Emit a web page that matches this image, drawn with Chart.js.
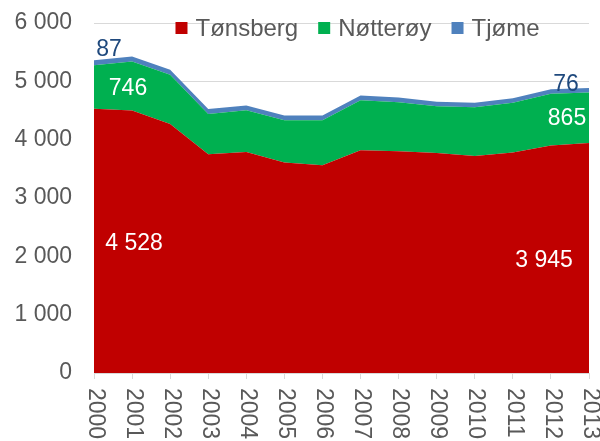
<!DOCTYPE html>
<html>
<head>
<meta charset="utf-8">
<script src="https://cdn.jsdelivr.net/npm/chart.js@4"></script>
<style>
  html, body { margin: 0; padding: 0; background: #ffffff; }
  #wrap { width: 600px; height: 441px; }
</style>
</head>
<body>
<div id="wrap"><canvas id="chart" width="600" height="441"></canvas></div>
<script>
// Years on the x axis
const years = ["2000", "2001", "2002", "2003", "2004", "2005", "2006",
  "2007", "2008", "2009", "2010", "2011", "2012", "2013"];

// Series values
const tonsberg = [4528, 4500, 4270, 3750, 3790, 3610, 3560, 3820, 3800, 3770, 3720, 3780, 3900, 3945];
const notteroy = [746, 840, 843, 690, 713, 721, 771, 854, 840, 801, 834, 853, 888, 865];
const tjome = [87, 86, 85, 84, 84, 83, 83, 84, 83, 81, 80, 79, 77, 76];

// Y axis ticks
const yTicks = [0, 1000, 2000, 3000, 4000, 5000, 6000];

const seriesNames = ["Tønsberg", "Nøtterøy", "Tjøme"];
const seriesColors = ["#C00000", "#00B050", "#4F81BD"];

const FONT = "'Liberation Sans', Arial, sans-serif";
const textGrey = "#595959";

// format 4528 -> "4 528"
function fmt(v) {
  return String(v).replace(/\B(?=(\d{3})+(?!\d))/g, " ");
}

// data labels: which series / which point, colour and a small nudge
const dataLabels = [
  { ds: 0, i: 0, color: "#ffffff", dx: 40, dy: 3 },
  { ds: 1, i: 0, color: "#ffffff", dx: 34, dy: 2 },
  { ds: 2, i: 0, color: "#1F497D", dx: 15, dy: -13 },
  { ds: 0, i: 13, color: "#ffffff", dx: -45, dy: 3 },
  { ds: 1, i: 13, color: "#ffffff", dx: -22, dy: 1 },
  { ds: 2, i: 13, color: "#1F497D", dx: -23, dy: -6 },
];

const extras = {
  id: "extras",
  afterDatasetsDraw(chart) {
    const ctx = chart.ctx;
    const xs = chart.scales.x;
    const ys = chart.scales.y;
    const area = chart.chartArea;
    const all = [tonsberg, notteroy, tjome];

    ctx.save();
    ctx.font = "23px " + FONT;
    ctx.textAlign = "center";
    ctx.textBaseline = "middle";

    // value labels sit in the middle of their band
    dataLabels.forEach((l) => {
      let base = 0;
      for (let k = 0; k < l.ds; k++) base += all[k][l.i];
      const v = all[l.ds][l.i];
      const x = xs.getPixelForValue(l.i) + l.dx;
      const y = ys.getPixelForValue(base + v / 2) + l.dy;
      ctx.fillStyle = l.color;
      ctx.fillText(fmt(v), x, y);
    });

    // x labels turned clockwise
    ctx.fillStyle = textGrey;
    ctx.textAlign = "left";
    years.forEach((yr, i) => {
      const x = xs.getPixelForValue(i);
      ctx.save();
      ctx.translate(x + 1, area.bottom + 15);
      ctx.rotate(Math.PI / 2);
      ctx.fillText(yr, 0, 0);
      ctx.restore();
    });

    // legend, inside the plot at the top
    ctx.font = "24px " + FONT;
    const box = 12, gap = 8, itemGap = 20;
    let total = 0;
    const widths = seriesNames.map((n) => ctx.measureText(n).width);
    widths.forEach((w) => (total += box + gap + w));
    total += itemGap * (seriesNames.length - 1);
    let lx = (area.left + area.right) / 2 + 16 - total / 2;
    const ly = area.top + 5;
    seriesNames.forEach((n, k) => {
      ctx.fillStyle = seriesColors[k];
      ctx.fillRect(lx, ly - box / 2, box, box);
      ctx.fillStyle = textGrey;
      ctx.textAlign = "left";
      ctx.fillText(n, lx + box + gap, ly + 1);
      lx += box + gap + widths[k] + itemGap;
    });
    ctx.restore();
  },
};

new Chart(document.getElementById("chart"), {
  type: "line",
  data: {
    labels: years,
    datasets: [
      { label: seriesNames[0], data: tonsberg, backgroundColor: seriesColors[0], borderColor: seriesColors[0], fill: "origin" },
      { label: seriesNames[1], data: notteroy, backgroundColor: seriesColors[1], borderColor: seriesColors[1], fill: "-1" },
      { label: seriesNames[2], data: tjome, backgroundColor: seriesColors[2], borderColor: seriesColors[2], fill: "-1" },
    ],
  },
  options: {
    responsive: false,
    animation: false,
    devicePixelRatio: 1,
    elements: {
      line: { tension: 0, borderWidth: 0 },
      point: { radius: 0 },
    },
    layout: { autoPadding: false, padding: { top: 23, right: 11, left: 0, bottom: 0 } },
    plugins: {
      legend: { display: false },
      tooltip: { enabled: false },
    },
    scales: {
      x: {
        offset: false,
        grid: { drawOnChartArea: false, drawTicks: true, tickLength: 6, color: "#d9d9d9" },
        border: { color: "#d9d9d9" },
        ticks: { display: false },
        afterFit(scale) { scale.height = 68; },
      },
      y: {
        stacked: true,
        min: 0,
        max: 6000,
        afterBuildTicks(scale) { scale.ticks = yTicks.map((v) => ({ value: v })); },
        grid: { color: "#d9d9d9", drawTicks: false },
        border: { display: false },
        ticks: {
          padding: 22,
          color: textGrey,
          font: { size: 23, family: FONT },
          callback: (v) => fmt(v),
        },
        afterFit(scale) {
          scale.width = 94;
          // tick padding was pushing the plot down
          scale.paddingTop = 0;
          scale.paddingBottom = 0;
        },
      },
    },
  },
  plugins: [extras],
});
</script>
</body>
</html>
